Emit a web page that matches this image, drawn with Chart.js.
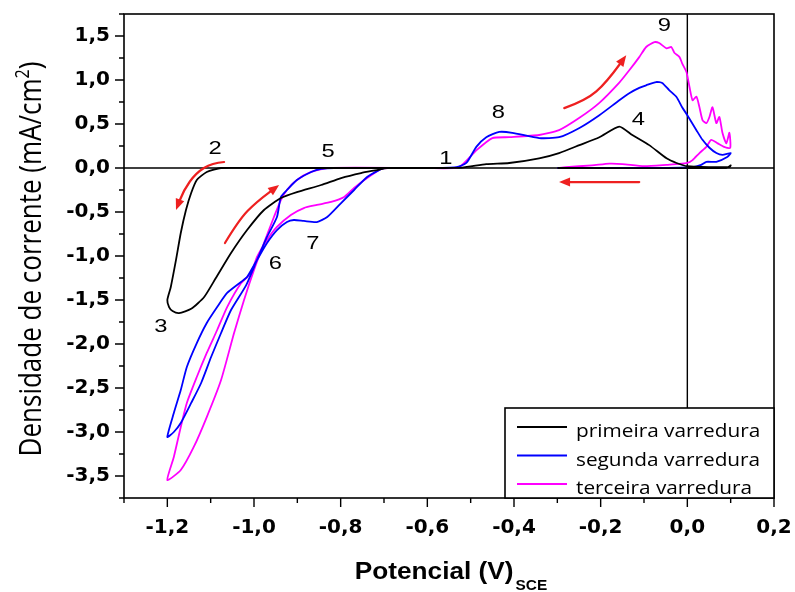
<!DOCTYPE html>
<html>
<head>
<meta charset="utf-8">
<script src="https://cdn.jsdelivr.net/npm/chart.js@4.4.0/dist/chart.umd.min.js"></script>
<style>
html,body{margin:0;padding:0;background:#fff;}
#wrap{width:795px;height:592px;position:relative;}
</style>
</head>
<body>
<div id="wrap"><canvas id="c" width="795" height="592"></canvas></div>
<script>
// ---------------- DATA ----------------
const seriesNames = ['primeira varredura', 'segunda varredura', 'terceira varredura'];

// primeira varredura: potential (V vs SCE) and current density (mA/cm2)
const primeiraV = [-0.55,-0.80,-1.00,-1.076,-1.109,-1.132,-1.145,-1.157,-1.169,-1.180,-1.192,-1.200,-1.196,-1.188,-1.173,-1.145,-1.115,-1.088,-1.053,-1.016,-0.977,-0.938,-0.901,-0.845,-0.799,-0.753,-0.716,-0.693,-0.60,-0.52,-0.464,-0.411,-0.342,-0.296,-0.249,-0.203,-0.157,-0.127,-0.088,-0.048,-0.025,0.0,0.097,0.100,0.090,-0.30];
const primeiraJ = [0,0,0,0,-0.045,-0.136,-0.284,-0.477,-0.739,-1.045,-1.352,-1.50,-1.58,-1.625,-1.648,-1.60,-1.466,-1.25,-0.966,-0.705,-0.477,-0.341,-0.273,-0.193,-0.114,-0.057,-0.023,0,0,0.005,0.045,0.057,0.11,0.17,0.26,0.35,0.47,0.375,0.26,0.11,0.057,0.02,0.01,0.03,0.0,0.0];

// segunda varredura
const segundaV = [-0.55,-0.70,-0.711,-0.739,-0.769,-0.799,-0.831,-0.855,-0.885,-0.908,-0.924,-0.947,-0.970,-0.993,-1.016,-1.030,-1.062,-1.085,-1.109,-1.132,-1.155,-1.169,-1.185,-1.200,-1.185,-1.169,-1.145,-1.122,-1.099,-1.076,-1.053,-1.018,-0.993,-0.970,-0.947,-0.938,-0.924,-0.901,-0.868,-0.845,-0.815,-0.60,-0.533,-0.510,-0.487,-0.464,-0.434,-0.404,-0.342,-0.296,-0.249,-0.203,-0.157,-0.134,-0.111,-0.095,-0.072,-0.058,-0.042,-0.025,-0.012,0.0,0.021,0.035,0.051,0.067,0.081,0.100,0.092,0.067,0.044,0.032,0.012,-0.10,-0.30];
const segundaJ = [0,0,-0.023,-0.102,-0.25,-0.398,-0.557,-0.614,-0.602,-0.591,-0.614,-0.705,-0.852,-1.045,-1.239,-1.295,-1.42,-1.58,-1.761,-1.989,-2.261,-2.523,-2.784,-3.057,-3.0,-2.898,-2.67,-2.443,-2.148,-1.875,-1.614,-1.33,-1.045,-0.784,-0.557,-0.33,-0.25,-0.136,-0.045,-0.011,0,0,0.01,0.057,0.24,0.35,0.41,0.40,0.34,0.35,0.455,0.60,0.77,0.85,0.91,0.94,0.977,0.966,0.886,0.807,0.69,0.60,0.43,0.32,0.23,0.17,0.15,0.17,0.125,0.07,0.07,0.035,0.01,0.0,0.0];

// terceira varredura
const terceiraV = [-0.55,-0.69,-0.707,-0.739,-0.769,-0.792,-0.822,-0.855,-0.885,-0.915,-0.947,-0.970,-0.993,-1.007,-1.030,-1.062,-1.085,-1.109,-1.132,-1.155,-1.169,-1.185,-1.200,-1.169,-1.139,-1.109,-1.076,-1.046,-1.023,-1.000,-0.977,-0.954,-0.938,-0.924,-0.901,-0.868,-0.831,-0.60,-0.527,-0.487,-0.450,-0.411,-0.342,-0.296,-0.249,-0.203,-0.157,-0.134,-0.111,-0.095,-0.076,-0.065,-0.048,-0.037,-0.030,-0.018,-0.012,-0.002,0.005,0.012,0.021,0.028,0.035,0.044,0.051,0.058,0.067,0.074,0.081,0.090,0.097,0.099,0.085,0.070,0.055,0.044,0.028,0.012,0.0,-0.025,-0.048,-0.10,-0.15,-0.18,-0.22,-0.28,-0.30];
const terceiraJ = [0,0,-0.01,-0.114,-0.227,-0.33,-0.386,-0.42,-0.455,-0.534,-0.67,-0.818,-1.011,-1.193,-1.31,-1.58,-1.841,-2.102,-2.375,-2.67,-2.943,-3.284,-3.545,-3.432,-3.17,-2.83,-2.409,-1.875,-1.50,-1.159,-0.852,-0.557,-0.364,-0.25,-0.136,-0.045,0,0,0.01,0.2,0.34,0.35,0.375,0.43,0.57,0.74,0.97,1.11,1.26,1.375,1.43,1.42,1.36,1.375,1.31,1.26,1.19,1.09,0.92,0.77,0.81,0.69,0.545,0.51,0.58,0.69,0.51,0.58,0.40,0.28,0.40,0.23,0.24,0.28,0.32,0.24,0.17,0.09,0.057,0.045,0.035,0.02,0.045,0.05,0.03,0.01,0];

// tick values and labels
const xTickValues = [-1.2,-1.0,-0.8,-0.6,-0.4,-0.2,0.0,0.2];
const xTickLabels = ['-1,2','-1,0','-0,8','-0,6','-0,4','-0,2','0,0','0,2'];
const yTickValues = [-3.5,-3.0,-2.5,-2.0,-1.5,-1.0,-0.5,0.0,0.5,1.0,1.5];
const yTickLabels = ['-3,5','-3,0','-2,5','-2,0','-1,5','-1,0','-0,5','0,0','0,5','1,0','1,5'];
const xMinorTicks = [-1.3,-1.1,-0.9,-0.7,-0.5,-0.3,-0.1,0.1];
const yMinorTicks = [-3.75,-3.25,-2.75,-2.25,-1.75,-1.25,-0.75,-0.25,0.25,0.75,1.25,1.75];

// peak annotations (data coordinates)
const peakLabels = ['1','2','3','4','5','6','7','8','9'];
const peakV = [-0.557,-1.090,-1.215,-0.113,-0.829,-0.951,-0.864,-0.436,-0.053];
const peakJ = [0.125,0.24,-1.78,0.57,0.20,-1.07,-0.84,0.65,1.64];

// scan-direction arrows (data coordinates, head at last point)
const arrowV = [
  [-1.069,-1.097,-1.134,-1.162,-1.180],
  [-1.067,-1.035,-0.995,-0.942],
  [-0.284,-0.233,-0.187,-0.141],
  [-0.111,-0.296]
];
const arrowJ = [
  [0.068,0.057,-0.057,-0.25,-0.477],
  [-0.852,-0.591,-0.386,-0.193],
  [0.68,0.77,0.97,1.28],
  [-0.16,-0.16]
];

// ---------------- HELPERS ----------------
const toXY = (vs, js) => vs.map((v, i) => ({x: v, y: js[i]}));
const colors = ['#000000', '#0000ff', '#ff00ff'];

function sText(ctx, txt, x, y, font, sx, align) {
  ctx.save();
  ctx.font = font;
  ctx.textAlign = 'left';
  const w = ctx.measureText(txt).width * sx;
  let x0 = x;
  if (align === 'center') x0 = x - w / 2;
  else if (align === 'right') x0 = x - w;
  ctx.translate(x0, y);
  ctx.scale(sx, 1);
  ctx.fillText(txt, 0, 0);
  ctx.restore();
  return w;
}

const decor = {
  id: 'decor',
  beforeDatasetsDraw(chart) {
    const {ctx, chartArea: a, scales: {x, y}} = chart;
    ctx.save();
    ctx.strokeStyle = '#000';
    ctx.lineWidth = 1.4;
    const y0 = y.getPixelForValue(0), x0 = x.getPixelForValue(0);
    ctx.beginPath();
    ctx.moveTo(a.left, y0); ctx.lineTo(a.right, y0);
    ctx.moveTo(x0, a.top); ctx.lineTo(x0, a.bottom);
    ctx.stroke();
    ctx.restore();
  },
  afterDatasetsDraw(chart) {
    const {ctx, chartArea: a, scales: {x, y}} = chart;
    ctx.save();
    // frame
    ctx.strokeStyle = '#000';
    ctx.lineWidth = 1.6;
    ctx.strokeRect(a.left, a.top, a.right - a.left, a.bottom - a.top);
    // ticks
    ctx.lineWidth = 1.4;
    ctx.beginPath();
    xTickValues.forEach(v => { const p = x.getPixelForValue(v); ctx.moveTo(p, a.bottom); ctx.lineTo(p, a.bottom + 9); });
    xMinorTicks.forEach(v => { const p = x.getPixelForValue(v); ctx.moveTo(p, a.bottom); ctx.lineTo(p, a.bottom + 5); });
    yTickValues.forEach(v => { const p = y.getPixelForValue(v); ctx.moveTo(a.left, p); ctx.lineTo(a.left - 9, p); });
    yMinorTicks.forEach(v => { const p = y.getPixelForValue(v); ctx.moveTo(a.left, p); ctx.lineTo(a.left - 5, p); });
    ctx.stroke();

    // legend box
    const lw = 269, lh = 90;
    const lx = a.right - lw, ly = a.bottom - lh;
    ctx.fillStyle = '#fff';
    ctx.fillRect(lx, ly, lw, lh);
    ctx.lineWidth = 1.6;
    ctx.strokeStyle = '#000';
    ctx.strokeRect(lx, ly, lw, lh);
    chart.data.datasets.forEach((ds, i) => {
      const ry = ly + 19 + i * 28.5;
      ctx.strokeStyle = ds.borderColor;
      ctx.lineWidth = 2;
      ctx.beginPath(); ctx.moveTo(lx + 12, ry); ctx.lineTo(lx + 62, ry); ctx.stroke();
      ctx.fillStyle = '#000';
      ctx.textBaseline = 'alphabetic';
      sText(ctx, ds.label, lx + 71, ry + 10, '18px "Open Sans"', 1.155, 'left');
    });

    // peak labels
    ctx.fillStyle = '#000';
    ctx.textBaseline = 'alphabetic';
    peakLabels.forEach((t, i) => {
      const px = x.getPixelForValue(peakV[i]), py = y.getPixelForValue(peakJ[i]);
      sText(ctx, t, px, py + 7, '19px "Liberation Sans"', 1.25, 'center');
    });

    // arrows
    ctx.strokeStyle = '#ee2020';
    ctx.fillStyle = '#ee2020';
    ctx.lineWidth = 2.2;
    ctx.lineJoin = 'round';
    ctx.lineCap = 'round';
    arrowV.forEach((vs, k) => {
      const pts = vs.map((v, i) => [x.getPixelForValue(v), y.getPixelForValue(arrowJ[k][i])]);
      const n = pts.length;
      const [ex, ey] = pts[n - 1];
      const [px, py] = pts[n - 2];
      const ang = Math.atan2(ey - py, ex - px);
      const hl = 11, hw = 4.5;
      const bx = ex - hl * Math.cos(ang), by = ey - hl * Math.sin(ang);
      ctx.beginPath();
      ctx.moveTo(pts[0][0], pts[0][1]);
      if (n > 2) {
        for (let i = 1; i < n - 1; i++) {
          const mx = (pts[i][0] + pts[i + 1][0]) / 2, my = (pts[i][1] + pts[i + 1][1]) / 2;
          if (i === n - 2) ctx.quadraticCurveTo(pts[i][0], pts[i][1], bx, by);
          else ctx.quadraticCurveTo(pts[i][0], pts[i][1], mx, my);
        }
      } else {
        ctx.lineTo(bx, by);
      }
      ctx.stroke();
      ctx.beginPath();
      ctx.moveTo(ex, ey);
      ctx.lineTo(bx - hw * Math.sin(ang), by + hw * Math.cos(ang));
      ctx.lineTo(bx + hw * Math.sin(ang), by - hw * Math.cos(ang));
      ctx.closePath();
      ctx.fill();
    });

    // x axis title with subscript
    ctx.fillStyle = '#000';
    ctx.textBaseline = 'alphabetic';
    const f1 = 'bold 23px "Liberation Sans"', f2 = 'bold 14px "Liberation Sans"';
    ctx.font = f1; const w1 = ctx.measureText('Potencial (V)').width * 1.14;
    ctx.font = f2; const w2 = ctx.measureText('SCE').width * 1.1;
    const cx = (a.left + a.right) / 2;
    const sx0 = cx - (w1 + 2 + w2) / 2 + 2;
    sText(ctx, 'Potencial (V)', sx0, a.bottom + 81, f1, 1.14, 'left');
    sText(ctx, 'SCE', sx0 + w1 + 2, a.bottom + 92, f2, 1.1, 'left');

    // y axis title (rotated) with superscript
    const t1 = 'Densidade de corrente (mA/cm', t2 = '2', t3 = ')';
    const fy = '26px "Open Sans"', fs = '16px "Open Sans"';
    ctx.font = fy; const a1 = ctx.measureText(t1).width, a3 = ctx.measureText(t3).width;
    ctx.font = fs; const a2 = ctx.measureText(t2).width;
    const tot = a1 + a2 + a3;
    ctx.save();
    ctx.translate(41, (a.top + a.bottom) / 2 + 3);
    ctx.rotate(-Math.PI / 2);
    ctx.scale(1, 1.2);
    ctx.textAlign = 'left';
    ctx.font = fy; ctx.fillText(t1, -tot / 2, 0);
    ctx.font = fs; ctx.fillText(t2, -tot / 2 + a1, -10);
    ctx.font = fy; ctx.fillText(t3, -tot / 2 + a1 + a2, 0);
    ctx.restore();

    ctx.restore();
  }
};

const datasets = [
  {label: seriesNames[0], data: toXY(primeiraV, primeiraJ)},
  {label: seriesNames[1], data: toXY(segundaV, segundaJ)},
  {label: seriesNames[2], data: toXY(terceiraV, terceiraJ)}
].map((d, i) => Object.assign(d, {
  borderColor: colors[i], backgroundColor: colors[i], showLine: true,
  pointRadius: 0, borderWidth: 1.8, tension: 0.2, fill: false
}));

new Chart(document.getElementById('c'), {
  type: 'scatter',
  data: {datasets},
  options: {
    responsive: false,
    animation: false,
    devicePixelRatio: 1,
    layout: {padding: {top: 14, right: 21, left: 0, bottom: 0}},
    plugins: {legend: {display: false}, tooltip: {enabled: false}},
    scales: {
      x: {
        type: 'linear', min: -1.3, max: 0.2,
        afterBuildTicks: s => { s.ticks = xTickValues.map(v => ({value: v})); },
        afterFit: s => { s.height = 94; s.paddingLeft = 0; s.paddingRight = 0; },
        grid: {display: false, drawTicks: false},
        border: {display: false},
        ticks: {
          autoSkip: false, maxRotation: 0, padding: 18, color: '#000',
          font: {family: '"DejaVu Sans"', weight: 'bold', size: 20},
          callback: (v, i) => xTickLabels[i]
        }
      },
      y: {
        type: 'linear', min: -3.75, max: 1.75,
        afterBuildTicks: s => { s.ticks = yTickValues.map(v => ({value: v})); },
        afterFit: s => { s.width = 124; s.paddingTop = 0; s.paddingBottom = 0; },
        grid: {display: false, drawTicks: false},
        border: {display: false},
        ticks: {
          autoSkip: false, padding: 14, color: '#000',
          font: {family: '"DejaVu Sans"', weight: 'bold', size: 20},
          callback: (v, i) => yTickLabels[i]
        }
      }
    }
  },
  plugins: [decor]
});
</script>
</body>
</html>
